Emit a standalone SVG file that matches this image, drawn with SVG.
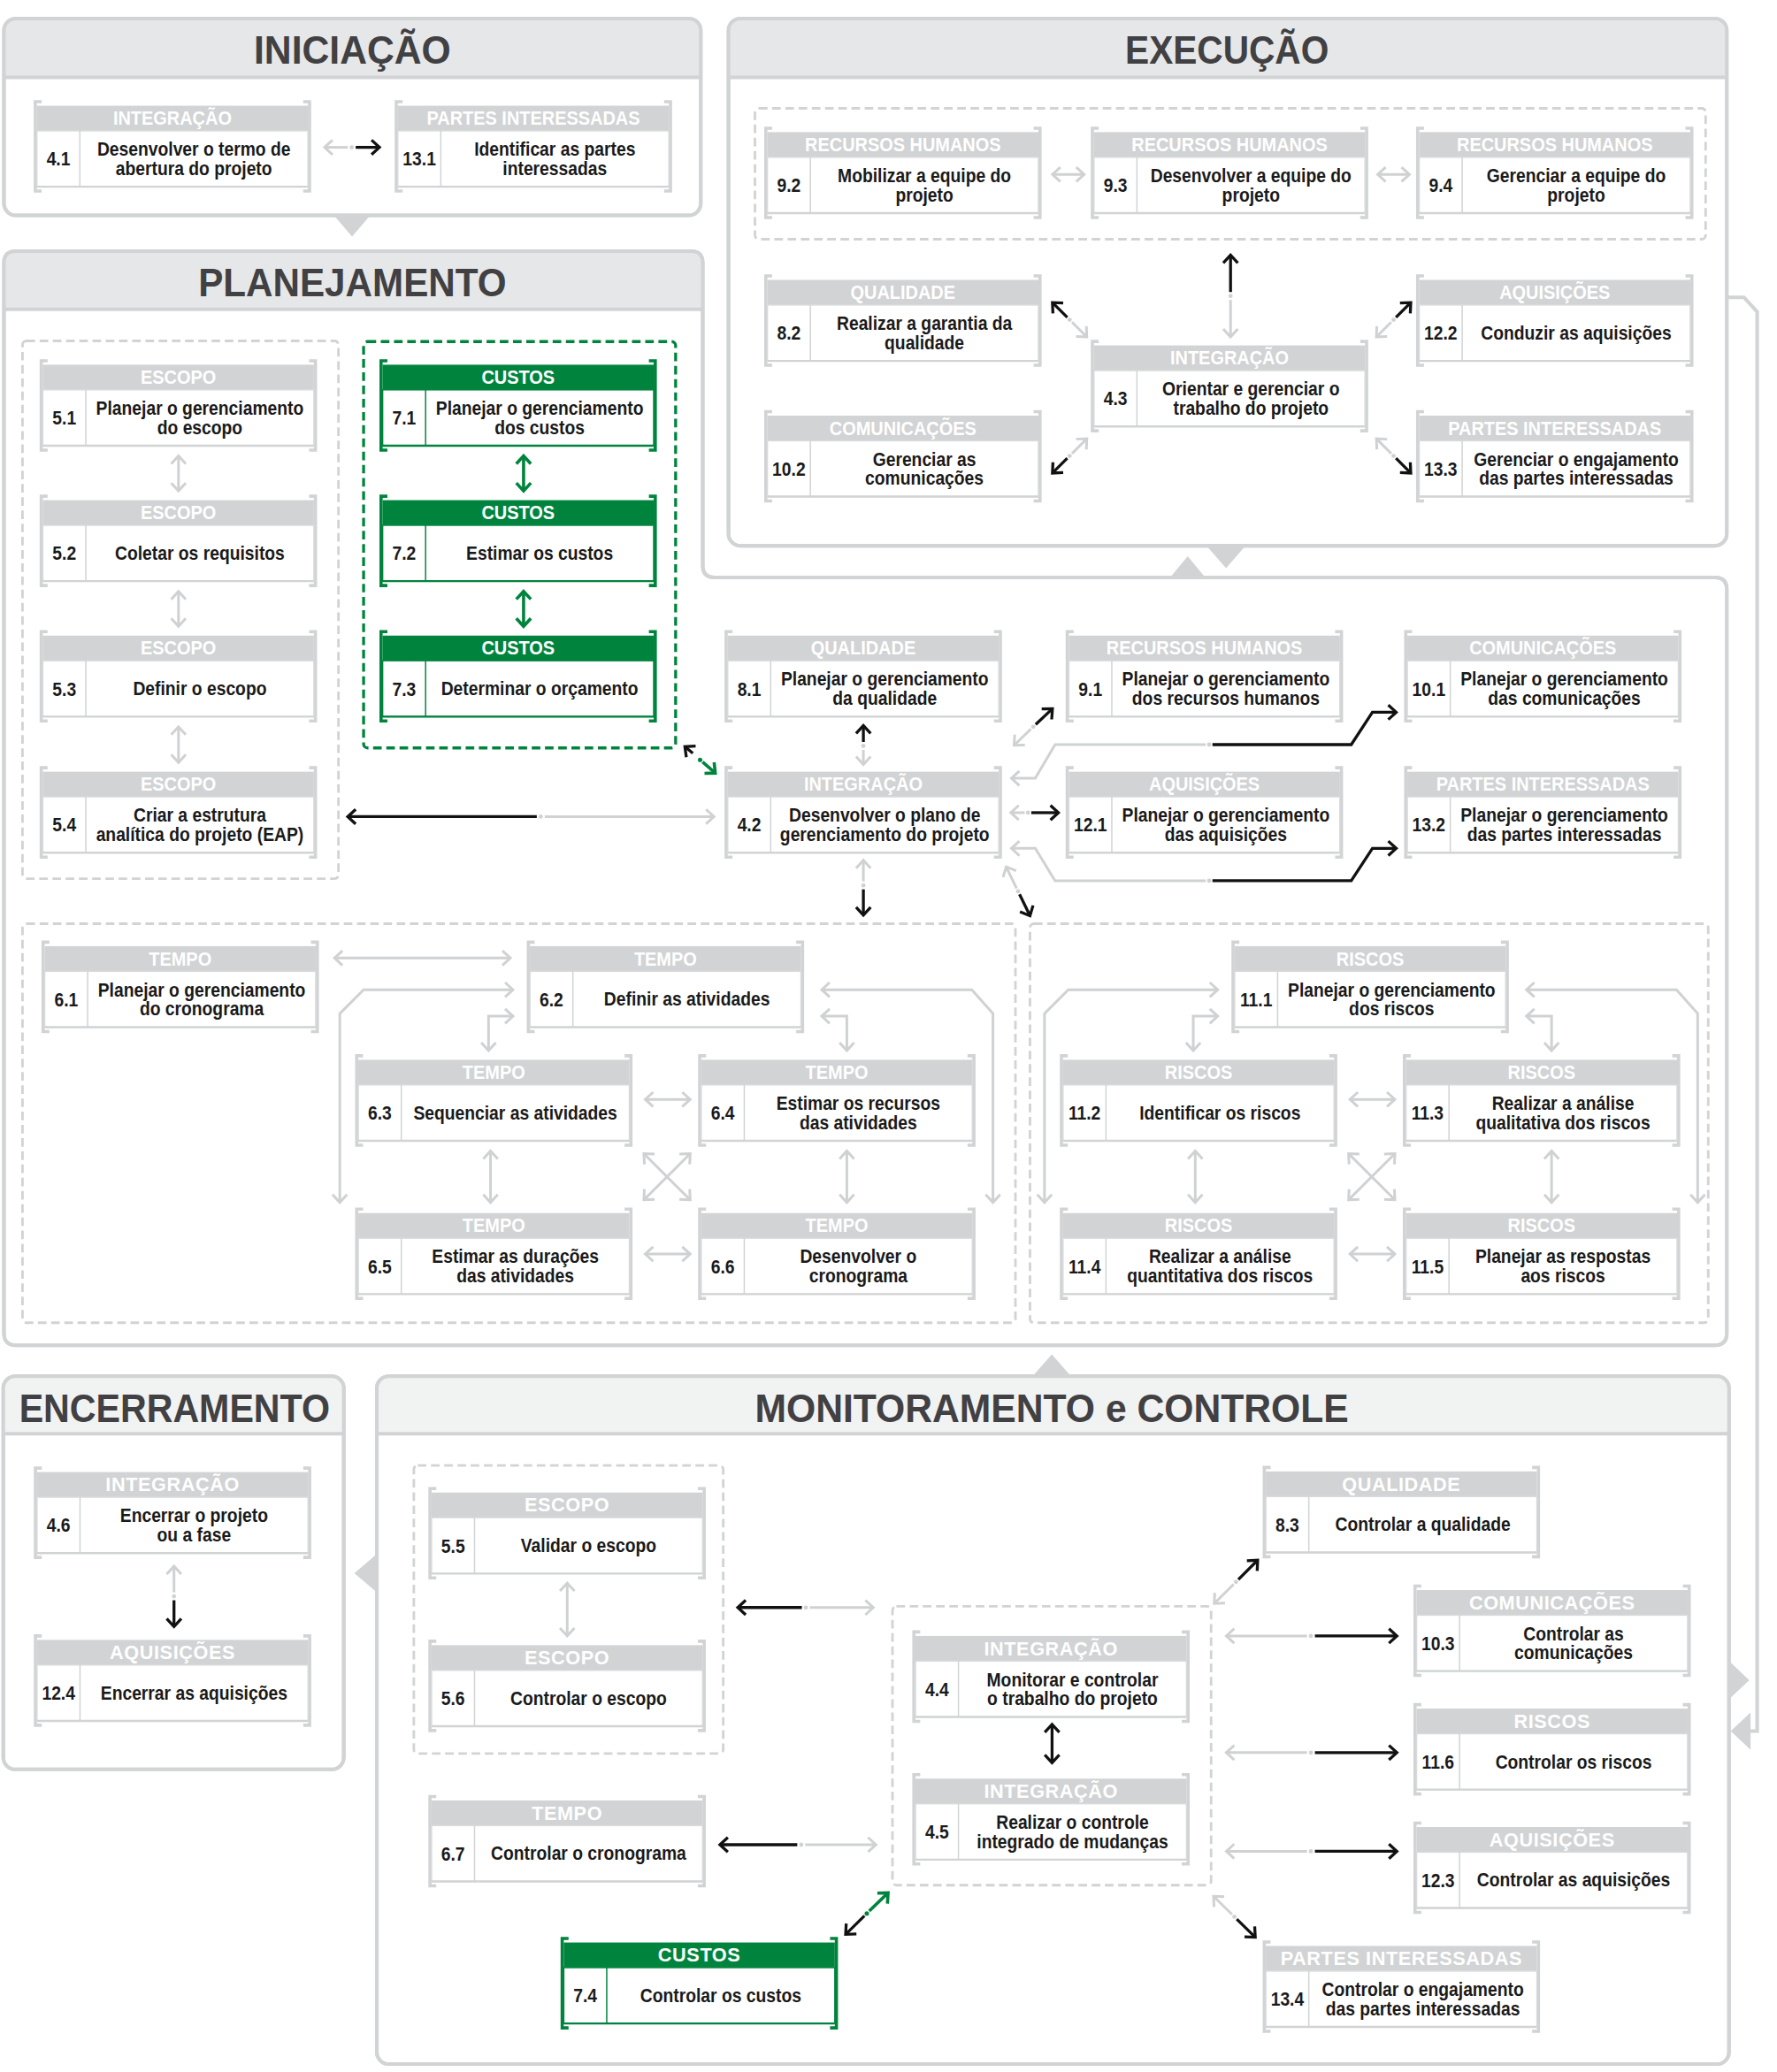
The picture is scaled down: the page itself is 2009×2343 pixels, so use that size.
<svg xmlns="http://www.w3.org/2000/svg" width="2009" height="2343" viewBox="0 0 2009 2343">
<style>
.pb{fill:#fff;stroke:#d1d3d4;stroke-width:2.7}
.ph{fill:#e6e7e8}
.ph2{fill:#f1f2f2}
.pl{fill:none;stroke:#d1d3d4;stroke-width:2.7}
.tri{fill:#d1d3d4}
.ttl{font-family:'Liberation Sans',Arial,sans-serif;font-weight:bold;font-size:30px;fill:#414042;text-anchor:middle}
.dg{fill:none;stroke:#d1d3d4;stroke-width:1.9;stroke-dasharray:6.5 3.5}
.dgr{fill:none;stroke:#00843d;stroke-width:2.2;stroke-dasharray:6.5 3.5}
.cat{font-family:'Liberation Sans',Arial,sans-serif;font-weight:bold;font-size:14.5px;fill:#fff;text-anchor:middle;transform-box:fill-box;transform-origin:center;transform:scaleX(.92)}
.catw{font-family:'Liberation Sans',Arial,sans-serif;font-weight:bold;font-size:14.5px;fill:#fff;text-anchor:middle;letter-spacing:.4px}
.tx{font-family:'Liberation Sans',Arial,sans-serif;font-weight:bold;font-size:14.5px;fill:#1a1a1a;text-anchor:middle;transform-box:fill-box;transform-origin:center;transform:scaleX(.89)}
.nm{font-family:'Liberation Sans',Arial,sans-serif;font-weight:bold;font-size:15px;fill:#1a1a1a;text-anchor:middle;transform-box:fill-box;transform-origin:center;transform:scaleX(.86)}
.cg{fill:none;stroke:#cfd1d3;stroke-width:2}
.cb{fill:none;stroke:#111;stroke-width:2.2}
.cn{fill:none;stroke:#00843d;stroke-width:2.4}
.g2{marker-start:url(#mG);marker-end:url(#mG)}
.ge{marker-end:url(#mG)}
.be{marker-end:url(#mB)}
.b2{marker-start:url(#mB);marker-end:url(#mB)}
.ne{marker-end:url(#mN)}
.n2{marker-start:url(#mN);marker-end:url(#mN)}
.dot{fill:#cfd1d3}
.dotn{fill:#00843d}
</style>
<defs>
<marker id="mB" viewBox="-9 -8 11 16" refX="0" refY="0" markerWidth="11" markerHeight="16" markerUnits="userSpaceOnUse" orient="auto-start-reverse"><path d="M-6,-5.5 L0,0 L-6,5.5" fill="none" stroke="#111" stroke-width="2.2"/></marker>
<marker id="mG" viewBox="-9 -8 11 16" refX="0" refY="0" markerWidth="11" markerHeight="16" markerUnits="userSpaceOnUse" orient="auto-start-reverse"><path d="M-6,-5.5 L0,0 L-6,5.5" fill="none" stroke="#cfd1d3" stroke-width="2"/></marker>
<marker id="mN" viewBox="-9 -8 11 16" refX="0" refY="0" markerWidth="11" markerHeight="16" markerUnits="userSpaceOnUse" orient="auto-start-reverse"><path d="M-6,-5.5 L0,0 L-6,5.5" fill="none" stroke="#00843d" stroke-width="2.4"/></marker>
<g id="fr">
<path d="M3.6,-3 H-1.2 V64.6 H3.6 M201.4,-3 H206.2 V64.6 H201.4" fill="none" stroke="#d1d3d4" stroke-width="2.4"/>
<rect x="0" y="0" width="205" height="19" fill="#d1d3d4"/>
<rect x="0" y="19" width="205" height="42.3" fill="#fff" stroke="#d9dadb" stroke-width="1"/>
<line x1="0" y1="61.3" x2="205" y2="61.3" stroke="#d1d3d4" stroke-width="1.6"/>
<line x1="32.5" y1="19" x2="32.5" y2="61.3" stroke="#d1d3d4" stroke-width="1"/>
</g>
<g id="frg">
<path d="M3.6,-3 H-1.2 V64.6 H3.6 M201.4,-3 H206.2 V64.6 H201.4" fill="none" stroke="#00843d" stroke-width="2.4"/>
<rect x="0" y="0" width="205" height="19" fill="#00843d"/>
<rect x="0" y="19" width="205" height="42.3" fill="#fff" stroke="#00843d" stroke-width="1"/>
<line x1="0" y1="61.3" x2="205" y2="61.3" stroke="#00843d" stroke-width="1.6"/>
<line x1="32.5" y1="19" x2="32.5" y2="61.3" stroke="#00843d" stroke-width="1"/>
</g>
</defs>
<rect x="0" y="0" width="2009" height="2343" fill="#fff"/>
<g transform="scale(1.49479 1.49426)">

<g id="panels">
<rect class="pb" x="3" y="14" width="527" height="149" rx="9"/>
<path class="ph" d="M3,58.5 V23 Q3,14 12,14 H521 Q530,14 530,23 V58.5 Z"/>
<path class="pl" d="M3,58.5 H530"/>
<rect class="pl" x="3" y="14" width="527" height="149" rx="9"/>
<path class="tri" d="M252.5,163 L280,163 L266.3,179 Z"/>
<text class="ttl" x="266.5" y="48.5" textLength="149" lengthAdjust="spacingAndGlyphs">INICIAÇÃO</text>
<rect class="pb" x="551" y="14" width="755" height="399" rx="9"/>
<path class="ph" d="M551,58.5 V23 Q551,14 560,14 H1297 Q1306,14 1306,23 V58.5 Z"/>
<path class="pl" d="M551,58.5 H1306"/>
<rect class="pl" x="551" y="14" width="755" height="399" rx="9"/>
<path class="tri" d="M912.6,413 L942,413 L927.3,430 Z"/>
<text class="ttl" x="928" y="48.5" textLength="154" lengthAdjust="spacingAndGlyphs">EXECUÇÃO</text>
<path class="pb" d="M12,190 H522.5 Q531.5,190 531.5,199 V428 Q531.5,437 540.5,437 H1297 Q1306,437 1306,446 V1009 Q1306,1018 1297,1018 H12 Q3,1018 3,1009 V199 Q3,190 12,190 Z"/>
<path class="ph" d="M3,234 V199 Q3,190 12,190 H522.5 Q531.5,190 531.5,199 V234 Z"/>
<path class="pl" d="M3,234 H531.5"/>
<path class="pl" d="M12,190 H522.5 Q531.5,190 531.5,199 V428 Q531.5,437 540.5,437 H1297 Q1306,437 1306,446 V1009 Q1306,1018 1297,1018 H12 Q3,1018 3,1009 V199 Q3,190 12,190 Z"/>
<path class="tri" d="M885,437 L911.6,437 L898.3,421 Z"/>
<text class="ttl" x="266.5" y="224.5" textLength="233" lengthAdjust="spacingAndGlyphs">PLANEJAMENTO</text>
<rect class="pb" x="2.5" y="1041.5" width="257.5" height="297.5" rx="9"/>
<path class="ph2" d="M2.5,1085 V1050.5 Q2.5,1041.5 11.5,1041.5 H251 Q260,1041.5 260,1050.5 V1085 Z"/>
<path class="pl" d="M2.5,1085 H260"/>
<rect class="pl" x="2.5" y="1041.5" width="257.5" height="297.5" rx="9"/>
<text class="ttl" x="132" y="1076" textLength="235" lengthAdjust="spacingAndGlyphs">ENCERRAMENTO</text>
<rect class="pb" x="285" y="1041.5" width="1022.7" height="520.5" rx="9"/>
<path class="ph2" d="M285,1085 V1050.5 Q285,1041.5 294,1041.5 H1298.7 Q1307.7,1041.5 1307.7,1050.5 V1085 Z"/>
<path class="pl" d="M285,1085 H1307.7"/>
<rect class="pl" x="285" y="1041.5" width="1022.7" height="520.5" rx="9"/>
<text class="ttl" x="795.5" y="1076" textLength="449" lengthAdjust="spacingAndGlyphs">MONITORAMENTO e CONTROLE</text>
<path class="tri" d="M781,1041.5 L810,1041.5 L795.5,1025 Z"/>
<path class="tri" d="M285,1176 L285,1205 L268,1190.5 Z"/>
<path class="tri" d="M1307.7,1257 L1307.7,1286 L1323,1271.5 Z"/>
<path class="tri" d="M1324,1296 L1324,1324 L1309,1310 Z"/>
<path class="pl" d="M1306,225 H1319 L1329,236 V1310 H1324"/>
</g>

<g id="groups">
<rect class="dg" x="571" y="82" width="719" height="99" rx="3"/>
<rect class="dg" x="17" y="258" width="239" height="407" rx="3"/>
<rect class="dgr" x="275" y="258.5" width="236" height="307.5" rx="3"/>
<rect class="dg" x="17" y="699" width="751" height="302" rx="3"/>
<rect class="dg" x="779" y="699" width="513" height="302" rx="3"/>
<rect class="dg" x="313" y="1109" width="234" height="218" rx="3"/>
<rect class="dg" x="675" y="1215.6" width="241" height="211" rx="3"/>
</g>

<g id="connectors">
<path class="cg ge" d="M263,111.5 H245.5"/><circle class="dot" cx="266" cy="111.5" r="1.6"/><path class="cb be" d="M269,111.5 H287"/>
<path class="cg g2" d="M796,132 H820"/>
<path class="cg g2" d="M1042,132 H1066"/>
<path class="cb be" d="M930.7,221 V193"/><circle class="dot" cx="930.7" cy="224" r="1.6"/><path class="cg ge" d="M930.7,227 V255"/>
<path class="cb be" d="M807.2,240.2 L796,229"/><circle class="dot" cx="809" cy="242" r="1.6"/><path class="cg ge" d="M810.8,243.8 L822,255"/>
<path class="cb be" d="M1055.8,240.2 L1067,229"/><circle class="dot" cx="1054" cy="242" r="1.6"/><path class="cg ge" d="M1052.2,243.8 L1041,255"/>
<path class="cb be" d="M807.2,346.8 L796,358"/><circle class="dot" cx="809" cy="345" r="1.6"/><path class="cg ge" d="M810.8,343.2 L822,332"/>
<path class="cb be" d="M1055.8,346.8 L1067,358"/><circle class="dot" cx="1054" cy="345" r="1.6"/><path class="cg ge" d="M1052.2,343.2 L1041,332"/>
<path class="cg g2" d="M135,345 V371.5"/>
<path class="cg g2" d="M135,447.5 V474"/>
<path class="cg g2" d="M135,550 V577"/>
<path class="cn n2" d="M396,345 V371.5"/>
<path class="cn n2" d="M396,447.5 V474"/>
<path class="cb be" d="M406,618 H263"/><circle class="dot" cx="409" cy="618" r="1.6"/><path class="cg ge" d="M412,618 H540"/>
<path class="cb be" d="M524,570 L518,565"/><circle class="dotn" cx="529.5" cy="575" r="1.7"/><path class="cn ne" d="M531.4,576.6 L541,585"/>
<path class="cb be" d="M653,561.5 V549"/><circle class="dot" cx="653" cy="564.5" r="1.6"/><path class="cg ge" d="M653,567.5 V578.6"/>
<path class="cg ge" d="M653,667 V651"/><circle class="dot" cx="653" cy="670" r="1.6"/><path class="cb be" d="M653,673 V692.5"/>
<path class="cg ge" d="M768.9,672.3 L761,656"/><circle class="dot" cx="770" cy="674.5" r="1.6"/><path class="cb be" d="M771.1,676.7 L779,693"/>
<path class="cg ge" d="M779.7,551.7 L767,564"/><circle class="dot" cx="781.5" cy="550" r="1.6"/><path class="cb be" d="M783.3,548.3 L796,536.3"/>
<path class="cg ge" d="M775,615 H764.5"/><circle class="dot" cx="777.5" cy="615" r="1.6"/><path class="cb be" d="M780,615 H800.5"/>
<path class="cg ge" d="M912,563.5 H798 L783,589 H765"/><circle class="dot" cx="914.5" cy="563.5" r="1.6"/><path class="cb be" d="M917,563.5 H1022 L1038,539 H1056"/>
<path class="cg ge" d="M912,666.5 H798 L783,642 H765"/><circle class="dot" cx="914.5" cy="666.5" r="1.6"/><path class="cb be" d="M917,666.5 H1022 L1038,642 H1056"/>
<path class="cg g2" d="M253,725 H386"/>
<path class="cg g2" d="M388,749 H275 L257,767 V910"/>
<path class="cg g2" d="M388,769 H369.5 V795"/>
<path class="cg g2" d="M621.5,749 H735 L751,767 V910"/>
<path class="cg g2" d="M621.5,769 H640.5 V795"/>
<path class="cg g2" d="M488,832 H522"/>
<path class="cg g2" d="M371,871 V910"/>
<path class="cg g2" d="M640.5,871 V910"/>
<path class="cg g2" d="M487,873 L522,908"/>
<path class="cg g2" d="M522,873 L487,908"/>
<path class="cg g2" d="M488,949 H522"/>
<path class="cg g2" d="M921,749 H808 L790,767 V910"/>
<path class="cg g2" d="M921,769 H902.5 V795"/>
<path class="cg g2" d="M1154.5,749 H1268 L1284,767 V910"/>
<path class="cg g2" d="M1154.5,769 H1173.5 V795"/>
<path class="cg g2" d="M1021,832 H1055"/>
<path class="cg g2" d="M904,871 V910"/>
<path class="cg g2" d="M1173.5,871 V910"/>
<path class="cg g2" d="M1020,873 L1055,908"/>
<path class="cg g2" d="M1055,873 L1020,908"/>
<path class="cg g2" d="M1021,949 H1055"/>
<path class="cg ge" d="M131.6,1205 V1185.2"/><circle class="dot" cx="131.6" cy="1208" r="1.6"/><path class="cb be" d="M131.6,1211 V1231"/>
<path class="cg g2" d="M429,1198 V1238"/>
<path class="cb be" d="M606.5,1216.5 H558"/><circle class="dot" cx="609.5" cy="1216.5" r="1.6"/><path class="cg ge" d="M612.5,1216.5 H660.5"/>
<path class="cb be" d="M603,1396 H544.5"/><circle class="dot" cx="606" cy="1396" r="1.6"/><path class="cg ge" d="M609,1396 H662.5"/>
<path class="cb b2" d="M795.7,1305 V1334"/>
<path class="cb be" d="M653.8,1449.8 L639.6,1463.8"/><circle class="dotn" cx="655.6" cy="1448" r="1.7"/><path class="cn ne" d="M657.4,1446.2 L671.7,1432.4"/>
<path class="cg ge" d="M988.5,1238 H927.5"/><circle class="dot" cx="991.5" cy="1238" r="1.6"/><path class="cb be" d="M994.5,1238 H1056.5"/>
<path class="cg ge" d="M988.5,1326.3 H927.5"/><circle class="dot" cx="991.5" cy="1326.3" r="1.6"/><path class="cb be" d="M994.5,1326.3 H1056.5"/>
<path class="cg ge" d="M988.5,1401 H927.5"/><circle class="dot" cx="991.5" cy="1401" r="1.6"/><path class="cb be" d="M994.5,1401 H1056.5"/>
<path class="cg ge" d="M933,1198.9 L918.4,1213.5"/><circle class="dot" cx="934.8" cy="1197.1" r="1.6"/><path class="cb be" d="M936.6,1195.3 L951.2,1180.7"/>
<path class="cg ge" d="M931.8,1448.7 L917.8,1435"/><circle class="dot" cx="933.6" cy="1450.5" r="1.6"/><path class="cb be" d="M935.4,1452.3 L949.4,1466"/>
</g>

<g id="nodes">
<g id="n4-1" transform="translate(27.9,80)"><use href="#fr"/><text class="cat" x="102.5" y="14.5">INTEGRAÇÃO</text><text class="nm" x="16.25" y="45.4">4.1</text><text class="tx" x="118.75" y="37.9">Desenvolver o termo de</text><text class="tx" x="118.75" y="52.5">abertura do projeto</text></g>
<g id="n13-1" transform="translate(300.9,80)"><use href="#fr"/><text class="cat" x="102.5" y="14.5">PARTES INTERESSADAS</text><text class="nm" x="16.25" y="45.4">13.1</text><text class="tx" x="118.75" y="37.9">Identificar as partes</text><text class="tx" x="118.75" y="52.5">interessadas</text></g>

<g id="n9-2" transform="translate(580.4,100)"><use href="#fr"/><text class="cat" x="102.5" y="14.5">RECURSOS HUMANOS</text><text class="nm" x="16.25" y="45.4">9.2</text><text class="tx" x="118.75" y="37.9">Mobilizar a equipe do</text><text class="tx" x="118.75" y="52.5">projeto</text></g>
<g id="n9-3" transform="translate(827.4,100)"><use href="#fr"/><text class="cat" x="102.5" y="14.5">RECURSOS HUMANOS</text><text class="nm" x="16.25" y="45.4">9.3</text><text class="tx" x="118.75" y="37.9">Desenvolver a equipe do</text><text class="tx" x="118.75" y="52.5">projeto</text></g>
<g id="n9-4" transform="translate(1073.4,100)"><use href="#fr"/><text class="cat" x="102.5" y="14.5">RECURSOS HUMANOS</text><text class="nm" x="16.25" y="45.4">9.4</text><text class="tx" x="118.75" y="37.9">Gerenciar a equipe do</text><text class="tx" x="118.75" y="52.5">projeto</text></g>
<g id="n8-2" transform="translate(580.4,211.8)"><use href="#fr"/><text class="cat" x="102.5" y="14.5">QUALIDADE</text><text class="nm" x="16.25" y="45.4">8.2</text><text class="tx" x="118.75" y="37.9">Realizar a garantia da</text><text class="tx" x="118.75" y="52.5">qualidade</text></g>
<g id="n12-2" transform="translate(1073.4,211.8)"><use href="#fr"/><text class="cat" x="102.5" y="14.5">AQUISIÇÕES</text><text class="nm" x="16.25" y="45.4">12.2</text><text class="tx" x="118.75" y="45.2">Conduzir as aquisições</text></g>
<g id="n4-3" transform="translate(827.4,261.4)"><use href="#fr"/><text class="cat" x="102.5" y="14.5">INTEGRAÇÃO</text><text class="nm" x="16.25" y="45.4">4.3</text><text class="tx" x="118.75" y="37.9">Orientar e gerenciar o</text><text class="tx" x="118.75" y="52.5">trabalho do projeto</text></g>
<g id="n10-2" transform="translate(580.4,314.5)"><use href="#fr"/><text class="cat" x="102.5" y="14.5">COMUNICAÇÕES</text><text class="nm" x="16.25" y="45.4">10.2</text><text class="tx" x="118.75" y="37.9">Gerenciar as</text><text class="tx" x="118.75" y="52.5">comunicações</text></g>
<g id="n13-3" transform="translate(1073.4,314.5)"><use href="#fr"/><text class="cat" x="102.5" y="14.5">PARTES INTERESSADAS</text><text class="nm" x="16.25" y="45.4">13.3</text><text class="tx" x="118.75" y="37.9">Gerenciar o engajamento</text><text class="tx" x="118.75" y="52.5">das partes interessadas</text></g>

<g id="n5-1" transform="translate(32.4,276)"><use href="#fr"/><text class="cat" x="102.5" y="14.5">ESCOPO</text><text class="nm" x="16.25" y="45.4">5.1</text><text class="tx" x="118.75" y="37.9">Planejar o gerenciamento</text><text class="tx" x="118.75" y="52.5">do escopo</text></g>
<g id="n5-2" transform="translate(32.4,378.5)"><use href="#fr"/><text class="cat" x="102.5" y="14.5">ESCOPO</text><text class="nm" x="16.25" y="45.4">5.2</text><text class="tx" x="118.75" y="45.2">Coletar os requisitos</text></g>
<g id="n5-3" transform="translate(32.4,481)"><use href="#fr"/><text class="cat" x="102.5" y="14.5">ESCOPO</text><text class="nm" x="16.25" y="45.4">5.3</text><text class="tx" x="118.75" y="45.2">Definir o escopo</text></g>
<g id="n5-4" transform="translate(32.4,584)"><use href="#fr"/><text class="cat" x="102.5" y="14.5">ESCOPO</text><text class="nm" x="16.25" y="45.4">5.4</text><text class="tx" x="118.75" y="37.9">Criar a estrutura</text><text class="tx" x="118.75" y="52.5">analítica do projeto (EAP)</text></g>
<g id="n7-1" transform="translate(289.4,276)"><use href="#frg"/><text class="cat" x="102.5" y="14.5">CUSTOS</text><text class="nm" x="16.25" y="45.4">7.1</text><text class="tx" x="118.75" y="37.9">Planejar o gerenciamento</text><text class="tx" x="118.75" y="52.5">dos custos</text></g>
<g id="n7-2" transform="translate(289.4,378.5)"><use href="#frg"/><text class="cat" x="102.5" y="14.5">CUSTOS</text><text class="nm" x="16.25" y="45.4">7.2</text><text class="tx" x="118.75" y="45.2">Estimar os custos</text></g>
<g id="n7-3" transform="translate(289.4,481)"><use href="#frg"/><text class="cat" x="102.5" y="14.5">CUSTOS</text><text class="nm" x="16.25" y="45.4">7.3</text><text class="tx" x="118.75" y="45.2">Determinar o orçamento</text></g>
<g id="n8-1" transform="translate(550.4,481)"><use href="#fr"/><text class="cat" x="102.5" y="14.5">QUALIDADE</text><text class="nm" x="16.25" y="45.4">8.1</text><text class="tx" x="118.75" y="37.9">Planejar o gerenciamento</text><text class="tx" x="118.75" y="52.5">da qualidade</text></g>
<g id="n9-1" transform="translate(808.4,481)"><use href="#fr"/><text class="cat" x="102.5" y="14.5">RECURSOS HUMANOS</text><text class="nm" x="16.25" y="45.4">9.1</text><text class="tx" x="118.75" y="37.9">Planejar o gerenciamento</text><text class="tx" x="118.75" y="52.5">dos recursos humanos</text></g>
<g id="n10-1" transform="translate(1064.4,481)"><use href="#fr"/><text class="cat" x="102.5" y="14.5">COMUNICAÇÕES</text><text class="nm" x="16.25" y="45.4">10.1</text><text class="tx" x="118.75" y="37.9">Planejar o gerenciamento</text><text class="tx" x="118.75" y="52.5">das comunicações</text></g>
<g id="n4-2" transform="translate(550.4,584)"><use href="#fr"/><text class="cat" x="102.5" y="14.5">INTEGRAÇÃO</text><text class="nm" x="16.25" y="45.4">4.2</text><text class="tx" x="118.75" y="37.9">Desenvolver o plano de</text><text class="tx" x="118.75" y="52.5">gerenciamento do projeto</text></g>
<g id="n12-1" transform="translate(808.4,584)"><use href="#fr"/><text class="cat" x="102.5" y="14.5">AQUISIÇÕES</text><text class="nm" x="16.25" y="45.4">12.1</text><text class="tx" x="118.75" y="37.9">Planejar o gerenciamento</text><text class="tx" x="118.75" y="52.5">das aquisições</text></g>
<g id="n13-2" transform="translate(1064.4,584)"><use href="#fr"/><text class="cat" x="102.5" y="14.5">PARTES INTERESSADAS</text><text class="nm" x="16.25" y="45.4">13.2</text><text class="tx" x="118.75" y="37.9">Planejar o gerenciamento</text><text class="tx" x="118.75" y="52.5">das partes interessadas</text></g>

<g id="n6-1" transform="translate(33.8,716)"><use href="#fr"/><text class="cat" x="102.5" y="14.5">TEMPO</text><text class="nm" x="16.25" y="45.4">6.1</text><text class="tx" x="118.75" y="37.9">Planejar o gerenciamento</text><text class="tx" x="118.75" y="52.5">do cronograma</text></g>
<g id="n6-2" transform="translate(400.8,716)"><use href="#fr"/><text class="cat" x="102.5" y="14.5">TEMPO</text><text class="nm" x="16.25" y="45.4">6.2</text><text class="tx" x="118.75" y="45.2">Definir as atividades</text></g>
<g id="n6-3" transform="translate(271,802)"><use href="#fr"/><text class="cat" x="102.5" y="14.5">TEMPO</text><text class="nm" x="16.25" y="45.4">6.3</text><text class="tx" x="118.75" y="45.2">Sequenciar as atividades</text></g>
<g id="n6-4" transform="translate(530.4,802)"><use href="#fr"/><text class="cat" x="102.5" y="14.5">TEMPO</text><text class="nm" x="16.25" y="45.4">6.4</text><text class="tx" x="118.75" y="37.9">Estimar os recursos</text><text class="tx" x="118.75" y="52.5">das atividades</text></g>
<g id="n6-5" transform="translate(271,918)"><use href="#fr"/><text class="cat" x="102.5" y="14.5">TEMPO</text><text class="nm" x="16.25" y="45.4">6.5</text><text class="tx" x="118.75" y="37.9">Estimar as durações</text><text class="tx" x="118.75" y="52.5">das atividades</text></g>
<g id="n6-6" transform="translate(530.4,918)"><use href="#fr"/><text class="cat" x="102.5" y="14.5">TEMPO</text><text class="nm" x="16.25" y="45.4">6.6</text><text class="tx" x="118.75" y="37.9">Desenvolver o</text><text class="tx" x="118.75" y="52.5">cronograma</text></g>
<g id="n11-1" transform="translate(933.8,716)"><use href="#fr"/><text class="cat" x="102.5" y="14.5">RISCOS</text><text class="nm" x="16.25" y="45.4">11.1</text><text class="tx" x="118.75" y="37.9">Planejar o gerenciamento</text><text class="tx" x="118.75" y="52.5">dos riscos</text></g>
<g id="n11-2" transform="translate(804,802)"><use href="#fr"/><text class="cat" x="102.5" y="14.5">RISCOS</text><text class="nm" x="16.25" y="45.4">11.2</text><text class="tx" x="118.75" y="45.2">Identificar os riscos</text></g>
<g id="n11-3" transform="translate(1063.4,802)"><use href="#fr"/><text class="cat" x="102.5" y="14.5">RISCOS</text><text class="nm" x="16.25" y="45.4">11.3</text><text class="tx" x="118.75" y="37.9">Realizar a análise</text><text class="tx" x="118.75" y="52.5">qualitativa dos riscos</text></g>
<g id="n11-4" transform="translate(804,918)"><use href="#fr"/><text class="cat" x="102.5" y="14.5">RISCOS</text><text class="nm" x="16.25" y="45.4">11.4</text><text class="tx" x="118.75" y="37.9">Realizar a análise</text><text class="tx" x="118.75" y="52.5">quantitativa dos riscos</text></g>
<g id="n11-5" transform="translate(1063.4,918)"><use href="#fr"/><text class="cat" x="102.5" y="14.5">RISCOS</text><text class="nm" x="16.25" y="45.4">11.5</text><text class="tx" x="118.75" y="37.9">Planejar as respostas</text><text class="tx" x="118.75" y="52.5">aos riscos</text></g>

<g id="n4-6" transform="translate(28,1114)"><use href="#fr"/><text class="catw" x="102.5" y="14.5">INTEGRAÇÃO</text><text class="nm" x="16.25" y="45.4">4.6</text><text class="tx" x="118.75" y="37.9">Encerrar o projeto</text><text class="tx" x="118.75" y="52.5">ou a fase</text></g>
<g id="n12-4" transform="translate(28,1241)"><use href="#fr"/><text class="catw" x="102.5" y="14.5">AQUISIÇÕES</text><text class="nm" x="16.25" y="45.4">12.4</text><text class="tx" x="118.75" y="45.2">Encerrar as aquisições</text></g>

<g id="n5-5" transform="translate(326.4,1129.5)"><use href="#fr"/><text class="catw" x="102.5" y="14.5">ESCOPO</text><text class="nm" x="16.25" y="45.4">5.5</text><text class="tx" x="118.75" y="45.2">Validar o escopo</text></g>
<g id="n5-6" transform="translate(326.4,1245)"><use href="#fr"/><text class="catw" x="102.5" y="14.5">ESCOPO</text><text class="nm" x="16.25" y="45.4">5.6</text><text class="tx" x="118.75" y="45.2">Controlar o escopo</text></g>
<g id="n6-7" transform="translate(326.4,1362.5)"><use href="#fr"/><text class="catw" x="102.5" y="14.5">TEMPO</text><text class="nm" x="16.25" y="45.4">6.7</text><text class="tx" x="118.75" y="45.2">Controlar o cronograma</text></g>
<g id="n7-4" transform="translate(426.4,1470)"><use href="#frg"/><text class="catw" x="102.5" y="14.5">CUSTOS</text><text class="nm" x="16.25" y="45.4">7.4</text><text class="tx" x="118.75" y="45.2">Controlar os custos</text></g>
<g id="n4-4" transform="translate(692.4,1238)"><use href="#fr"/><text class="catw" x="102.5" y="14.5">INTEGRAÇÃO</text><text class="nm" x="16.25" y="45.4">4.4</text><text class="tx" x="118.75" y="37.9">Monitorar e controlar</text><text class="tx" x="118.75" y="52.5">o trabalho do projeto</text></g>
<g id="n4-5" transform="translate(692.4,1346)"><use href="#fr"/><text class="catw" x="102.5" y="14.5">INTEGRAÇÃO</text><text class="nm" x="16.25" y="45.4">4.5</text><text class="tx" x="118.75" y="37.9">Realizar o controle</text><text class="tx" x="118.75" y="52.5">integrado de mudanças</text></g>
<g id="n8-3" transform="translate(957.4,1113.5)"><use href="#fr"/><text class="catw" x="102.5" y="14.5">QUALIDADE</text><text class="nm" x="16.25" y="45.4">8.3</text><text class="tx" x="118.75" y="45.2">Controlar a qualidade</text></g>
<g id="n10-3" transform="translate(1071.4,1203.3)"><use href="#fr"/><text class="catw" x="102.5" y="14.5">COMUNICAÇÕES</text><text class="nm" x="16.25" y="45.4">10.3</text><text class="tx" x="118.75" y="37.9">Controlar as</text><text class="tx" x="118.75" y="52.5">comunicações</text></g>
<g id="n11-6" transform="translate(1071.4,1293)"><use href="#fr"/><text class="catw" x="102.5" y="14.5">RISCOS</text><text class="nm" x="16.25" y="45.4">11.6</text><text class="tx" x="118.75" y="45.2">Controlar os riscos</text></g>
<g id="n12-3" transform="translate(1071.4,1382.6)"><use href="#fr"/><text class="catw" x="102.5" y="14.5">AQUISIÇÕES</text><text class="nm" x="16.25" y="45.4">12.3</text><text class="tx" x="118.75" y="45.2">Controlar as aquisições</text></g>
<g id="n13-4" transform="translate(957.4,1472.6)"><use href="#fr"/><text class="catw" x="102.5" y="14.5">PARTES INTERESSADAS</text><text class="nm" x="16.25" y="45.4">13.4</text><text class="tx" x="118.75" y="37.9">Controlar o engajamento</text><text class="tx" x="118.75" y="52.5">das partes interessadas</text></g>
</g>
</g>
</svg>
